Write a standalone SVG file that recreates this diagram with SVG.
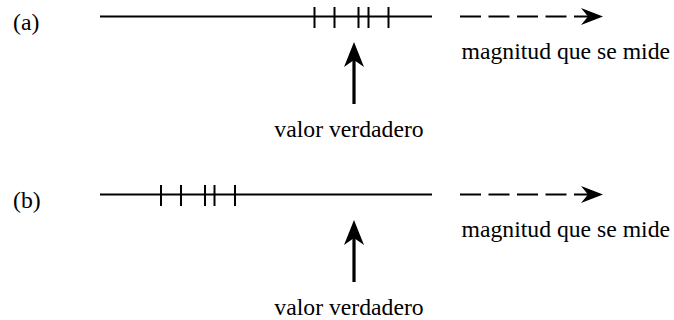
<svg xmlns="http://www.w3.org/2000/svg" width="674" height="320" viewBox="0 0 674 320">
<style>
text{font-family:'Liberation Serif','Times New Roman',serif;font-size:23.7px;fill:#000}
.ln{stroke:#000;stroke-width:1.8;fill:none}
.tk{stroke:#000;stroke-width:2;fill:none}
.dash{stroke:#000;stroke-width:1.8;fill:none;stroke-dasharray:21 7.5}
.shaft{stroke:#000;stroke-width:3.2;fill:none}
.head{fill:#000;stroke:none}
</style>
<defs>
<path id="vhead" d="M0,0 L10,25 L0,18 L-10,25 Z"/>
<path id="hhead" d="M0,0 L-22,-8.5 L-15,0 L-22,8.5 Z"/>
</defs>
<g id="panel-a">
<text x="13" y="30">(a)</text>
<g id="axis-a">
<line class="ln" x1="100" y1="16.5" x2="432" y2="16.5"/>
<g id="ticks-a">
<line class="tk" x1="314.5" y1="7" x2="314.5" y2="28"/>
<line class="tk" x1="334.5" y1="7" x2="334.5" y2="28"/>
<line class="tk" x1="358.5" y1="7" x2="358.5" y2="28"/>
<line class="tk" x1="368.5" y1="7" x2="368.5" y2="28"/>
<line class="tk" x1="388.5" y1="7" x2="388.5" y2="28"/>
</g>
</g>
<g id="magnitude-a">
<line class="dash" x1="460" y1="16.5" x2="595" y2="16.5"/>
<use href="#hhead" class="head" x="603" y="16.5"/>
<text x="461.5" y="59">magnitud que se mide</text>
</g>
<g id="true-a">
<line class="shaft" x1="354" y1="58" x2="354" y2="104"/>
<use href="#vhead" class="head" x="354" y="42"/>
<text x="349" y="137" text-anchor="middle">valor verdadero</text>
</g>
</g>
<g id="panel-b">
<text x="13" y="208">(b)</text>
<g id="axis-b">
<line class="ln" x1="100" y1="194.5" x2="432" y2="194.5"/>
<g id="ticks-b">
<line class="tk" x1="161" y1="185" x2="161" y2="206"/>
<line class="tk" x1="181" y1="185" x2="181" y2="206"/>
<line class="tk" x1="205" y1="185" x2="205" y2="206"/>
<line class="tk" x1="214.5" y1="185" x2="214.5" y2="206"/>
<line class="tk" x1="235" y1="185" x2="235" y2="206"/>
</g>
</g>
<g id="magnitude-b">
<line class="dash" x1="460" y1="194.5" x2="595" y2="194.5"/>
<use href="#hhead" class="head" x="603" y="194.5"/>
<text x="461.5" y="237">magnitud que se mide</text>
</g>
<g id="true-b">
<line class="shaft" x1="354" y1="236" x2="354" y2="282"/>
<use href="#vhead" class="head" x="354" y="220"/>
<text x="349" y="315" text-anchor="middle">valor verdadero</text>
</g>
</g>
</svg>
